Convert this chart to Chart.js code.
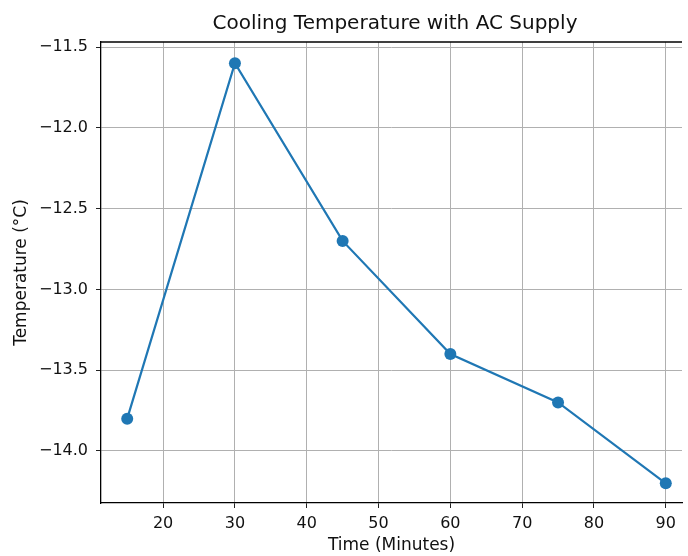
<!DOCTYPE html>
<html>
<head>
<meta charset="utf-8">
<style>
  html, body { margin: 0; padding: 0; overflow: hidden; background: #fff; }
  #wrap { position: absolute; left: 0; top: 0; width: 688px; height: 556px; }
</style>
</head>
<body>
<div id="wrap"><canvas id="coolingChart" width="688" height="556"></canvas></div>
<script src="https://cdn.jsdelivr.net/npm/chart.js"></script>
<script>
    const minutes = [15, 30, 45, 60, 75, 90];
    const temperatures = [-13.8, -11.6, -12.7, -13.4, -13.7, -14.2];
    const xTicks = [20, 30, 40, 50, 60, 70, 80, 90];
    const yTicks = [-11.5, -12.0, -12.5, -13.0, -13.5, -14.0];

    const fontFamily = '"DejaVu Sans", sans-serif';
    const blue = '#1f77b4';

    // matplotlib draws its own title over the axes and a closed frame
    const framePlugin = {
        id: 'frame',
        afterDraw(chart) {
            const { ctx, chartArea } = chart;
            ctx.save();
            ctx.strokeStyle = '#000';
            ctx.lineWidth = 1.3;
            ctx.beginPath();
            ctx.moveTo(chartArea.left, chartArea.top);
            ctx.lineTo(chartArea.right, chartArea.top);
            ctx.stroke();
            ctx.fillStyle = '#111';
            ctx.font = '20px ' + fontFamily;
            ctx.textAlign = 'center';
            ctx.textBaseline = 'middle';
            ctx.fillText('Cooling Temperature with AC Supply', 395, 24);
            ctx.restore();
        }
    };

    const ctx = document.getElementById('coolingChart').getContext('2d');
    new Chart(ctx, {
        type: 'line',
        data: {
            datasets: [{
                data: minutes.map((m, i) => ({ x: m, y: temperatures[i] })),
                borderColor: blue,
                backgroundColor: blue,
                borderWidth: 2.2,
                pointRadius: 6,
                pointHoverRadius: 6,
                pointBorderWidth: 0,
                tension: 0
            }]
        },
        options: {
            responsive: false,
            animation: false,
            layout: { padding: { top: 42, right: 0, left: 0, bottom: 0 } },
            plugins: {
                legend: { display: false },
                tooltip: { enabled: false }
            },
            scales: {
                x: {
                    type: 'linear',
                    min: 11.35,
                    max: 92.26,
                    afterBuildTicks: axis => { axis.ticks = xTicks.map(v => ({ value: v })); },
                    afterFit: axis => { axis.height = 53; },
                    grid: { color: '#b0b0b0', lineWidth: 1, tickLength: 5, tickColor: '#222' },
                    border: { color: '#000', width: 1.3 },
                    ticks: {
                        color: '#111',
                        padding: 6,
                        maxRotation: 0,
                        font: { family: fontFamily, size: 16 }
                    },
                    title: {
                        display: true,
                        text: 'Time (Minutes)',
                        color: '#111',
                        padding: { top: 0, bottom: 0 },
                        font: { family: fontFamily, size: 17 }
                    }
                },
                y: {
                    min: -14.322,
                    max: -11.469,
                    afterBuildTicks: axis => { axis.ticks = yTicks.map(v => ({ value: v })); },
                    afterFit: axis => { axis.width = 101; },
                    grid: { color: '#b0b0b0', lineWidth: 1, tickLength: 5, tickColor: '#222' },
                    border: { color: '#000', width: 1.3 },
                    ticks: {
                        color: '#111',
                        padding: 8,
                        font: { family: fontFamily, size: 16 },
                        callback: v => (v < 0 ? '\u2212' : '') + Math.abs(v).toFixed(1)
                    },
                    title: {
                        display: true,
                        text: 'Temperature (°C)',
                        color: '#111',
                        padding: { top: 11, bottom: 0 },
                        font: { family: fontFamily, size: 17 }
                    }
                }
            }
        },
        plugins: [framePlugin]
    });
</script>
</body>
</html>
